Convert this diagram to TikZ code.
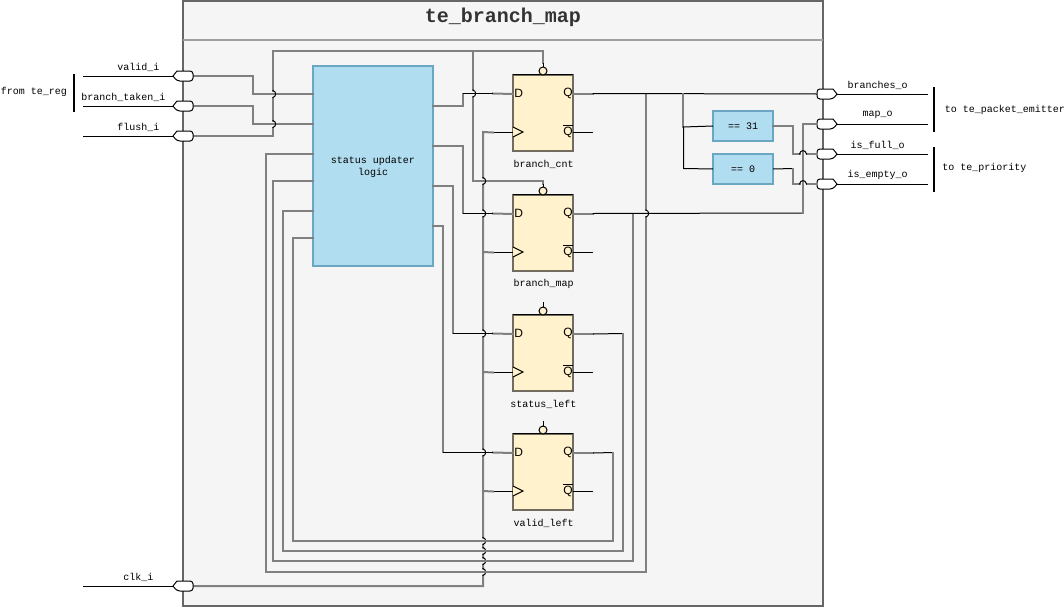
\documentclass[tikz,border=0pt]{standalone}
\usepackage{fontspec}
\setmainfont{Liberation Sans}
\setmonofont{Liberation Mono}
\definecolor{frameG}{HTML}{666666}
\definecolor{frameF}{HTML}{F5F5F5}
\definecolor{sepG}{HTML}{A0A0A0}
\definecolor{blueF}{HTML}{B1DDF0}
\definecolor{blueS}{HTML}{6BA6C3}
\definecolor{ffF}{HTML}{FFF2CC}
\definecolor{ffS}{HTML}{716C5F}
\definecolor{wireG}{HTML}{808080}
\tikzset{
  wire/.style={draw=wireG,line width=1.5pt,line join=miter,line cap=rect},
  bwire/.style={draw=black,line width=.75pt,line join=miter},
  hopv/.style={bwire,to path={.. controls +(3.5,-1) and +(3.5,1) .. (\tikztotarget)}},
  hoph/.style={bwire,to path={.. controls +(.5,-4.5) and +(-.5,-4.5) .. (\tikztotarget)}},
  lbl/.style={font=\ttfamily\fontsize{7.5pt}{9pt}\selectfont,text=black,inner sep=0pt,align=center},
  logicbox/.style={draw=blueS,fill=blueF,line width=1.5pt,inner sep=0pt,outer sep=0pt,
    font=\ttfamily\fontsize{7.5pt}{9pt}\selectfont,text=black,align=center},
  ffbox/.style={draw=ffS,fill=ffF,line width=1.5pt,inner sep=0pt,outer sep=0pt,
    minimum width=45pt,minimum height=57.375pt},
  pinlbl/.style={font=\fontsize{9pt}{9pt}\selectfont,inner sep=0pt},
  portbox/.style={inner sep=0pt,outer sep=0pt,minimum width=15pt,minimum height=7.5pt},
  portline/.style={draw=black,fill=white,line width=.75pt,rounded corners=2.2pt},
  bracket/.style={draw=black,line width=1.5pt},
}
% vertical wire going upwards that hops over a horizontal one
\newcommand\JV[2]{-- (#1,#2+3.5) edge[hopv] (#1,#2-3.5) (#1,#2-3.5)}
% horizontal wire going rightwards that hops over a vertical one
\newcommand\JH[2]{-- (#1-3.5,#2) edge[hoph] (#1+3.5,#2) (#1+3.5,#2)}
% input port: name, y
\newcommand\portin[2]{%
  \node[portbox] (#1) at (183,#2) {};
  \draw[portline] (173,#2) [sharp corners] -- (177,#2-5) [rounded corners=2.2pt] -- (193,#2-5) -- (193,#2+5) -- (177,#2+5) [sharp corners] -- cycle;
}
% output port: name, y
\newcommand\portout[2]{%
  \node[portbox] (#1) at (827,#2) {};
  \draw[portline] (837,#2) [sharp corners] -- (833,#2-5) [rounded corners=2.2pt] -- (817,#2-5) -- (817,#2+5) -- (833,#2+5) [sharp corners] -- cycle;
}
% flip-flop: name, top y, label
\newcommand\flipflop[3]{%
  \node[ffbox] (#1) at (543,#2+38.25) {};
  \draw[bwire] (#1.north west) -- (#1.north east);
  \coordinate (#1-d) at (493,#2+19);
  \coordinate (#1-clk) at (493,#2+58);
  \coordinate (#1-q) at (593,#2+19.5);
  \coordinate (#1-nq) at (593,#2+58);
  \coordinate (#1-r) at (543,#2-7.5);
  \draw[wire] (#1-d) -- (513,#2+19.5);
  \draw[bwire] (#1-clk) -- (513,#2+58);
  \draw[wire] (573,#2+19.5) -- (#1-q);
  \draw[bwire] (573,#2+58) -- (#1-nq);
  \draw[bwire,fill=ffF] (513,#2+52.5) -- (523,#2+57.5) -- (513,#2+62.5);
  \draw[bwire,fill=ffF] (543,#2-3.5) circle[radius=4];
  \node[pinlbl,anchor=west] at (514,#2+18.5) {D};
  \node[pinlbl,anchor=east] at (573,#2+18.5) {Q};
  \node[pinlbl,anchor=east] at (573,#2+57) {$\overline{\mbox{Q}}$};
  \node[lbl] at (543.5,#2+89.5) {#3};
}
\begin{document}
\begin{tikzpicture}[x=.75pt,y=-.75pt]
\useasboundingbox (0,0) rectangle (1064,607);
\fill[white] (0,0) rectangle (1064,607);
% frame
\node[draw=frameG,fill=frameF,line width=1.5pt,inner sep=0pt,outer sep=0pt,minimum width=480pt,minimum height=453.4pt] (frame) at (503,303.3) {};
\draw[draw=sepG,line width=1.5pt] (183,39.5) -- (823,39.5);
\node[font=\ttfamily\bfseries\fontsize{15pt}{16pt}\selectfont,text=black!80,inner sep=0pt] (title) at (503,17) {te\_branch\_map};
% logic boxes
\node[logicbox,minimum width=90pt,minimum height=150pt] (upd) at (373,166) {};
\node[lbl] (updtxt) at (373,167) {status updater\\logic};
\node[logicbox,minimum width=45pt,minimum height=22.5pt] (eq31) at (743,126) {== 31};
\node[logicbox,minimum width=45pt,minimum height=22.5pt] (eq0) at (743,169) {== 0};
% anchors on the updater
\coordinate (u1) at (313,94);
\coordinate (u2) at (313,124);
\coordinate (u3) at (313,154);
\coordinate (u4) at (313,181);
\coordinate (u5) at (313,211);
\coordinate (u6) at (313,238);
\coordinate (o1) at (433,106);
\coordinate (o2) at (433,146);
\coordinate (o3) at (433,186);
\coordinate (o4) at (433,226);
\coordinate (pv) at (193,76);
\coordinate (pb) at (193,106);
\coordinate (pf) at (193,136);
\coordinate (pc) at (193,586);
% wires behind everything
\draw[wire] (pv) -- (253,76) -- (253,94) -- (u1);
\draw[wire] (pb) -- (253,106) -- (253,124) -- (u2);
% flip-flops
\flipflop{ffa}{74.5}{branch\_cnt}
\flipflop{ffb}{194.5}{branch\_map}
\flipflop{ffc}{314.5}{status\_left}
\flipflop{ffd}{433.5}{valid\_left}
\draw[bwire] (ffc-r) -- (543,302);
\draw[bwire] (ffd-r) -- (543,421);
% flush / reset
\draw[wire] (pf) -- (273,136) \JV{273}{124} \JV{273}{94} -- (273,51) -- (543,51) -- (543,63);
\draw[bwire] (543,63) -- (ffa-r);
\draw[wire] (543,184) -- (543,181) -- (473,181) \JV{473}{93.5} -- (473,51);
\draw[bwire] (ffb-r) -- (543,184);
% updater outputs to D
\draw[wire] (o1) -- (463,106) -- (463,94);
\draw[bwire] (463,93.5) -- (ffa-d);
\draw[wire] (o2) -- (463,146) -- (463,213);
\draw[bwire] (463,213.5) -- (ffb-d);
\draw[wire] (o3) -- (453,186) -- (453,333);
\draw[bwire] (453,333.5) -- (ffc-d);
\draw[wire] (o4) -- (443,226) -- (443,452);
\draw[bwire] (443,452.5) -- (ffd-d);
% clock
\draw[wire] (pc) -- (483,586) \JV{483}{572} \JV{483}{561} \JV{483}{551} \JV{483}{541} \JV{483}{452.5} \JV{483}{333.5} \JV{483}{213.5} \JV{483}{181} -- (483,132) -- (ffa-clk);
\draw[wire] (483,252) -- (ffb-clk);
\draw[wire] (483,372) -- (ffc-clk);
\draw[wire] (483,491) -- (ffd-clk);
% feedback
\coordinate (jq) at (646,94);
\coordinate (jm) at (633,213.5);
\draw[bwire] (ffd-q) -- (613,452.5);
\draw[wire] (613,453) -- (613,541) -- (293,541) -- (293,238) -- (u6);
\draw[bwire] (ffc-q) -- (623,333.5);
\draw[wire] (623,334) -- (623,551) -- (283,551) -- (283,211) -- (u5);
\draw[wire] (jm) -- (633,561) -- (273,561) -- (273,181) -- (u4);
\draw[wire] (u3) -- (266,154) -- (266,572) -- (646,572) \JV{646}{213.5} -- (jq);
% outputs
\portout{pbo}{94}
\portout{pmo}{124}
\portout{pfo}{154}
\portout{peo}{184}
\draw[bwire] (ffa-q) -- (593,93.5) -- (817,94);
\draw[wire] (683,94) -- (683,127);
\draw[bwire] (683,127) -- (eq31.west);
\draw[bwire] (683.5,127) -- (683.5,168.5) -- (eq0.west);
\draw[bwire] (ffb-q) -- (593,213.5) -- (803,213);
\draw[wire] (803,213) -- (803,124) -- (817,124);
\draw[wire] (eq31.east) -- (793,126) -- (793,154) \JH{803}{154} -- (817,154);
\draw[bwire] (eq0.east) -- (793,168.5);
\draw[wire] (793,169) -- (793,184) \JH{803}{184} -- (817,184);
% ports
\portin{ipv}{76}
\portin{ipb}{106}
\portin{ipf}{136}
\portin{ipc}{586}
\coordinate (xv) at (83,76.5);
\coordinate (xb) at (83,106.5);
\coordinate (xf) at (83,136.5);
\coordinate (xc) at (83,586.5);
\draw[bwire] (xv) -- (173,76.5);
\draw[bwire] (xb) -- (173,106.5);
\draw[bwire] (xf) -- (173,136.5);
\draw[bwire] (xc) -- (173,586.5);
\coordinate (yb) at (928,94.5);
\coordinate (ym) at (928,124.5);
\coordinate (yf) at (928,154.5);
\coordinate (ye) at (928,184.5);
\draw[bwire] (837,94.5) -- (yb);
\draw[bwire] (837,124.5) -- (ym);
\draw[bwire] (837,154.5) -- (yf);
\draw[bwire] (837,184.5) -- (ye);
% brackets
\draw[bracket] (73.5,74) -- (73.5,111.5);
\draw[bracket] (933.5,87) -- (933.5,132);
\draw[bracket] (933.5,147) -- (933.5,192);
% labels
\node[lbl] at (138.5,67) {valid\_i};
\node[lbl] at (123.5,97) {branch\_taken\_i};
\node[lbl] at (138.5,127) {flush\_i};
\node[lbl] at (138.5,577) {clk\_i};
\node[lbl] at (877.5,85) {branches\_o};
\node[lbl] at (877.5,115) {map\_o};
\node[lbl] at (877.5,145) {is\_full\_o};
\node[lbl] at (877.5,175) {is\_empty\_o};
\node[lbl,anchor=west] at (.5,92) {from te\_reg};
\node[lbl,anchor=west] at (944.5,110) {to te\_packet\_emitter};
\node[lbl,anchor=west] at (942,168) {to te\_priority};
\end{tikzpicture}
\end{document}
